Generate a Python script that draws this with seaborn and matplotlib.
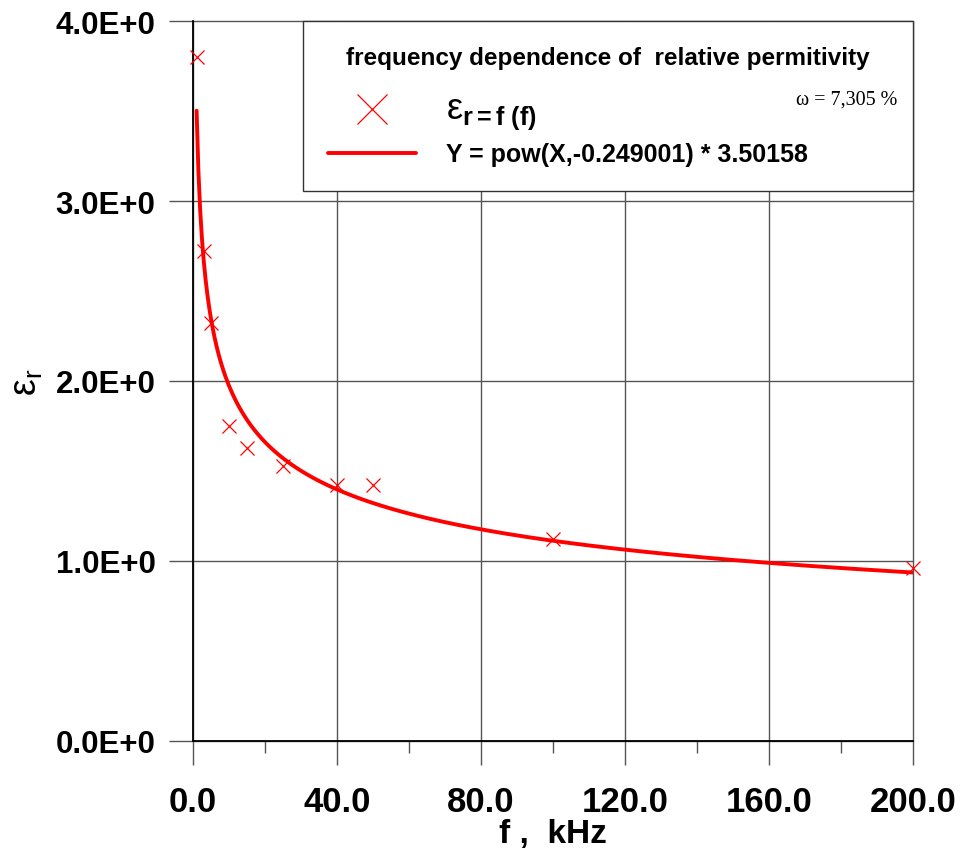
import numpy as np
import pandas as pd
import matplotlib
matplotlib.use("Agg")
import matplotlib.pyplot as plt
import seaborn as sns

freq_khz = [1, 3, 5, 10, 15, 25, 40, 50, 100, 200]
eps_r = [3.80, 2.72, 2.32, 1.75, 1.63, 1.53, 1.42, 1.42, 1.12, 0.96]

# power-law fit as printed in the legend
fit_exp = -0.249001
fit_coef = 3.50158

x_ticks = [0, 40, 80, 120, 160, 200]
x_minor = [20, 60, 100, 140, 180]
y_ticks = [0, 1, 2, 3, 4]
y_tick_labels = ["0.0E+0", "1.0E+0", "2.0E+0", "3.0E+0", "4.0E+0"]

sns.set_theme(style="white")
plt.rcParams["font.family"] = ["Liberation Sans", "DejaVu Sans"]
plt.rcParams["text.color"] = "black"
plt.rcParams["axes.labelcolor"] = "black"
plt.rcParams["xtick.labelcolor"] = "black"
plt.rcParams["ytick.labelcolor"] = "black"
plt.rcParams["mathtext.fontset"] = "custom"
plt.rcParams["mathtext.rm"] = "Liberation Sans"
plt.rcParams["mathtext.bf"] = "Liberation Sans:bold"
plt.rcParams["mathtext.it"] = "Liberation Sans"

df = pd.DataFrame({"f": freq_khz, "eps": eps_r})
fit_x = np.linspace(1, 200, 400)
df_fit = pd.DataFrame({"f": fit_x, "eps": fit_coef * np.power(fit_x, fit_exp)})

fig = plt.figure(figsize=(9.6, 8.53), dpi=100)
ax = fig.add_axes([193 / 960, 1 - 742 / 853, 720 / 960, 720 / 853])

sns.lineplot(data=df_fit, x="f", y="eps", ax=ax, color="red", lw=2.8,
             label="Y = pow(X,-0.249001) * 3.50158", zorder=3)
ax.plot(df["f"], df["eps"], ls="none", marker="x", ms=10.5, mew=0.9,
        color="red", label=r"$\mathrm{\varepsilon}_{\mathbf{r = f\ (f)}}$",
        zorder=4, clip_on=False)

ax.set_xlim(0, 200)
ax.set_ylim(0, 4)
ax.set_xticks(x_ticks)
ax.set_xticks(x_minor, minor=True)
ax.set_xticklabels([f"{v:.1f}" for v in x_ticks], fontsize=25, fontweight="bold")
ax.set_yticks(y_ticks)
ax.set_yticklabels(y_tick_labels, fontsize=22.5, fontweight="bold")

ax.grid(True, which="major", color="#555555", lw=1.0)
for gl in ax.get_xgridlines() + ax.get_ygridlines():
    gl.set_clip_on(False)
ax.tick_params(axis="both", which="major", direction="out", length=17,
               width=1.0, color="#555555", bottom=True, left=True)
ax.tick_params(axis="x", which="major", pad=15)
ax.tick_params(axis="y", which="major", pad=10)
ax.tick_params(axis="x", which="minor", direction="out", length=8.5,
               width=1.0, color="#555555", bottom=True)

for side in ["top", "right"]:
    ax.spines[side].set_visible(False)
for side in ["left", "bottom"]:
    ax.spines[side].set_color("black")
    ax.spines[side].set_linewidth(1.3)

ax.set_xlabel("f ,  kHz", fontsize=24, fontweight="bold", labelpad=0)
ax.set_ylabel(r"$\mathrm{\varepsilon_r}$", fontsize=27)
ax.yaxis.set_label_coords(-0.205, 0.5)

# legend box in the upper right corner
handles, labels = ax.get_legend_handles_labels()
leg = ax.legend(handles[::-1], labels[::-1],
                title="frequency dependence of  relative permitivity",
                title_fontproperties={"weight": "bold", "size": 17.5},
                loc="upper left", bbox_to_anchor=(110 / 720, 1.0, 610 / 720, 0),
                mode="expand", borderaxespad=0, frameon=True, fancybox=False,
                edgecolor="#333333", framealpha=1,
                prop={"weight": "bold", "size": 18}, markerscale=2.0,
                handlelength=3.5, handletextpad=1.2, borderpad=1.0)
leg.get_frame().set_linewidth(1.0)
texts = leg.get_texts()
texts[0].set_fontsize(26)
# spacing under the title and between the two entries
leg._legend_box.sep = 16
for col in leg._legend_handle_box.get_children():
    col.sep = 8

ax.text(0.978, 0.892, "ω = 7,305 %", transform=ax.transAxes, ha="right",
        va="center", fontsize=14.5, family="Liberation Serif", zorder=6)

fig.savefig("out.png", dpi=100)
